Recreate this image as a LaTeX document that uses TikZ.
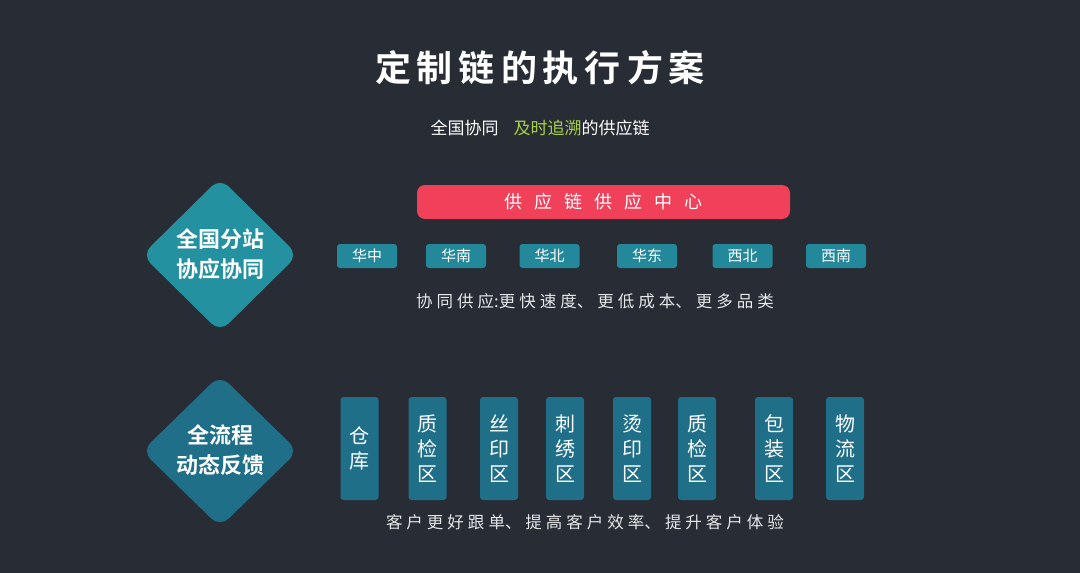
\documentclass[tikz,border=0pt]{standalone}
\usepackage{fontspec}
\newfontfamily\cjk{Noto Sans CJK SC}
\newfontfamily\cjkb{Noto Sans CJK SC Bold}
\usetikzlibrary{shapes.geometric}
\definecolor{bg}{HTML}{282C34}
\definecolor{teal1}{HTML}{2491A1}
\definecolor{teal2}{HTML}{1F6F89}
\definecolor{regc}{HTML}{23899A}
\definecolor{redc}{HTML}{F0405A}
\definecolor{greenc}{HTML}{A6D146}
\definecolor{txt}{HTML}{E6E8EA}
\tikzset{
  regbox/.style={fill=regc, rounded corners=3pt, minimum width=60pt, minimum height=24pt, inner sep=0pt, text=white, font=\cjk\fontsize{15}{15}\selectfont},
  vbox/.style={fill=teal2, rounded corners=3pt, minimum width=38pt, minimum height=103pt, inner sep=0pt, text=white, align=center, font=\cjk\fontsize{20}{25}\selectfont},
  note/.style={text=txt, font=\cjk\fontsize{16.5}{16.5}\selectfont},
  dtext/.style={text=white, align=center, font=\cjkb\fontsize{22}{30}\selectfont},
}
\begin{document}
\begin{tikzpicture}[x=1pt,y=-1pt]
\fill[bg] (0,0) rectangle (1080,573);
\useasboundingbox (0,0) rectangle (1080,573);
% title
\node[text=white, font=\cjkb\fontsize{36}{36}\selectfont] (title) at (540,68) {定\hspace{6pt}制\hspace{6pt}链\hspace{6pt}的\hspace{6pt}执\hspace{6pt}行\hspace{6pt}方\hspace{6pt}案};
\node[text=white, font=\cjk\fontsize{17}{17}\selectfont] (sub) at (540,128) {全国协同\hspace{15pt}\textcolor{greenc}{及时追溯}的供应链};
% diamonds
\fill[teal1, rounded corners=12pt] (220,178) -- (298,255) -- (220,332) -- (142,255) -- cycle;
\node[dtext] (d1) at (220,254) {全国分站\\协应协同};
\fill[teal2, rounded corners=12pt] (220,375) -- (298,451) -- (220,527) -- (142,451) -- cycle;
\node[dtext] (d2) at (220,450) {全流程\\动态反馈};
% red bar
\node[fill=redc, rounded corners=8pt, minimum width=373pt, minimum height=34pt, inner sep=0pt, text=white, font=\cjk\fontsize{18}{18}\selectfont] (center) at (603.5,202) {供\hspace{12pt}应\hspace{12pt}链\hspace{12pt}供\hspace{12pt}应\hspace{12pt}中\hspace{12pt}心};
% regions
\node[regbox] (r1) at (367,256) {华中};
\node[regbox] (r2) at (456,256) {华南};
\node[regbox] (r3) at (549.5,256) {华北};
\node[regbox] (r4) at (647,256) {华东};
\node[regbox] (r5) at (742.5,256) {西北};
\node[regbox] (r6) at (836,256) {西南};
\node[note] (n1) at (595,301) {协\hspace{4pt}同\hspace{4pt}供\hspace{4pt}应:更\hspace{4pt}快\hspace{4pt}速\hspace{4pt}度、\hspace{4pt}更\hspace{4pt}低\hspace{4pt}成\hspace{4pt}本、\hspace{4pt}更\hspace{4pt}多\hspace{4pt}品\hspace{4pt}类};
% vertical boxes
\node[vbox] (v1) at (359.5,448.5) {仓\\库};
\node[vbox] (v2) at (427.5,448.5) {质\\检\\区};
\node[vbox] (v3) at (499,448.5) {丝\\印\\区};
\node[vbox] (v4) at (565,448.5) {刺\\绣\\区};
\node[vbox] (v5) at (632,448.5) {烫\\印\\区};
\node[vbox] (v6) at (697,448.5) {质\\检\\区};
\node[vbox] (v7) at (774,448.5) {包\\装\\区};
\node[vbox] (v8) at (845,448.5) {物\\流\\区};
\node[note] (n2) at (585,522) {客\hspace{4pt}户\hspace{4pt}更\hspace{4pt}好\hspace{4pt}跟\hspace{4pt}单、\hspace{4pt}提\hspace{4pt}高\hspace{4pt}客\hspace{4pt}户\hspace{4pt}效\hspace{4pt}率、\hspace{4pt}提\hspace{4pt}升\hspace{4pt}客\hspace{4pt}户\hspace{4pt}体\hspace{4pt}验};
\end{tikzpicture}
\end{document}
